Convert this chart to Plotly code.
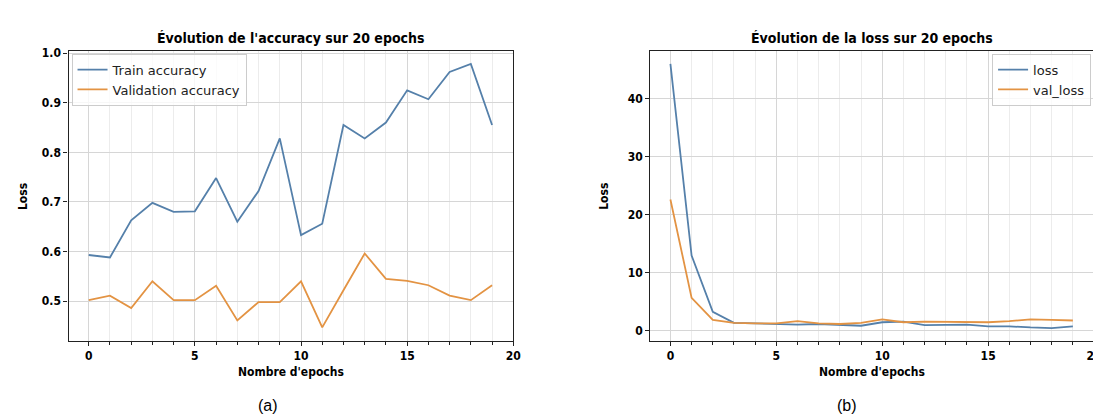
import plotly.graph_objects as go

epochs = list(range(20))
train_acc = [0.593, 0.588, 0.663, 0.698, 0.680, 0.681, 0.748, 0.660, 0.722, 0.828,
             0.633, 0.656, 0.855, 0.828, 0.860, 0.925, 0.907, 0.962, 0.978, 0.855]
val_acc = [0.502, 0.511, 0.486, 0.540, 0.502, 0.502, 0.531, 0.461, 0.498, 0.498,
           0.540, 0.447, 0.522, 0.596, 0.545, 0.541, 0.532, 0.511, 0.502, 0.532]
loss = [46.0, 12.9, 3.2, 1.3, 1.2, 1.1, 1.0, 1.1, 1.0, 0.8,
        1.4, 1.5, 0.9, 1.0, 1.0, 0.7, 0.7, 0.5, 0.4, 0.7]
val_loss = [22.6, 5.6, 1.8, 1.3, 1.2, 1.2, 1.6, 1.2, 1.1, 1.3,
            1.9, 1.4, 1.5, 1.5, 1.4, 1.4, 1.6, 1.9, 1.8, 1.7]
x_ticks = [0, 5, 10, 15, 20]
acc_ticks = [0.5, 0.6, 0.7, 0.8, 0.9, 1.0]
acc_tick_text = ["0.5", "0.6", "0.7", "0.8", "0.9", "1.0"]
loss_ticks = [0, 10, 20, 30, 40]

BLUE = "#5580aa"
ORANGE = "#e39343"
W, H = 1101, 414
COND = "DejaVu Sans Condensed, Liberation Sans Narrow, DejaVu Sans"
TICKFONT = dict(family=COND, size=12, color="black", weight="bold")
LEGFONT = dict(family="DejaVu Sans", size=13, color="#222")

fig = go.Figure()
fig.add_trace(go.Scatter(x=epochs, y=train_acc, mode="lines", name="Train accuracy",
                         line=dict(color=BLUE, width=1.8), xaxis="x", yaxis="y", legend="legend"))
fig.add_trace(go.Scatter(x=epochs, y=val_acc, mode="lines", name="Validation accuracy",
                         line=dict(color=ORANGE, width=1.8), xaxis="x", yaxis="y", legend="legend"))
fig.add_trace(go.Scatter(x=epochs, y=loss, mode="lines", name="loss",
                         line=dict(color=BLUE, width=1.8), xaxis="x2", yaxis="y2", legend="legend2"))
fig.add_trace(go.Scatter(x=epochs, y=val_loss, mode="lines", name="val_loss",
                         line=dict(color=ORANGE, width=1.8), xaxis="x2", yaxis="y2", legend="legend2"))

def xaxis(domain, anchor):
    return dict(domain=domain, anchor=anchor, range=[-0.95, 20.0], tickvals=x_ticks,
                showline=True, mirror=True, linecolor="#222", linewidth=1.4,
                ticks="outside", ticklen=4, tickcolor="#222", tickfont=TICKFONT,
                showgrid=True, gridcolor="#d6d6d6", gridwidth=1, zeroline=False,
                minor=dict(dtick=1, tick0=0, showgrid=True, gridcolor="#ececec",
                           ticks="outside", ticklen=3, tickcolor="#222"))

def yaxis(domain, anchor, rng, tv, tt=None):
    d = dict(domain=domain, anchor=anchor, range=rng, tickvals=tv,
             showline=True, mirror=True, linecolor="#222", linewidth=1.4,
             ticks="outside", ticklen=4, tickcolor="#222", tickfont=TICKFONT,
             showgrid=True, gridcolor="#d6d6d6", gridwidth=1, zeroline=False)
    if tt:
        d["ticktext"] = tt
    return d

ydom = [1 - 332 / H, 1 - 39 / H]
x1dom = [61 / W, 509 / W]
x2dom = [647 / W, 1094 / W]

annotations = []
def txt(x, y, s, size, bold=False, family=COND, angle=0):
    annotations.append(dict(x=x / W, y=1 - y / H, xref="paper", yref="paper", text=s,
                            showarrow=False, xanchor="center", yanchor="middle", textangle=angle,
                            font=dict(family=family, size=size, color="black",
                                      weight="bold" if bold else "normal")))

txt(285, 26, "Évolution de l'accuracy sur 20 epochs", 14, bold=True)
txt(870, 26, "Évolution de la loss sur 20 epochs", 14, bold=True)
txt(285, 364, "Nombre d'epochs", 12, bold=True)
txt(870, 364, "Nombre d'epochs", 12, bold=True)
txt(15, 186, "Loss", 12, bold=True, angle=-90)
txt(601, 186, "Loss", 12, bold=True, angle=-90)
txt(262, 397, "(a)", 16, family="Liberation Sans")
txt(845, 397, "(b)", 16, family="Liberation Sans")

fig.update_layout(
    width=W, height=H, margin=dict(l=0, r=0, t=0, b=0),
    paper_bgcolor="white", plot_bgcolor="white",
    xaxis=xaxis(x1dom, "y"), yaxis=yaxis(ydom, "x", [0.42, 1.005], acc_ticks, acc_tick_text),
    xaxis2=xaxis(x2dom, "y2"), yaxis2=yaxis(ydom, "x2", [-1.8, 48.3], loss_ticks),
    legend=dict(x=64 / W, y=1 - 42 / H, xanchor="left", yanchor="top", font=LEGFONT,
                bgcolor="rgba(255,255,255,0.8)", bordercolor="#cccccc", borderwidth=1,
                tracegroupgap=0, itemwidth=30),
    legend2=dict(x=1091 / W, y=1 - 42 / H, xanchor="right", yanchor="top", font=LEGFONT,
                 bgcolor="rgba(255,255,255,0.8)", bordercolor="#cccccc", borderwidth=1,
                 tracegroupgap=0, itemwidth=30),
    annotations=annotations,
    showlegend=True,
)

fig.write_html("out.html")
